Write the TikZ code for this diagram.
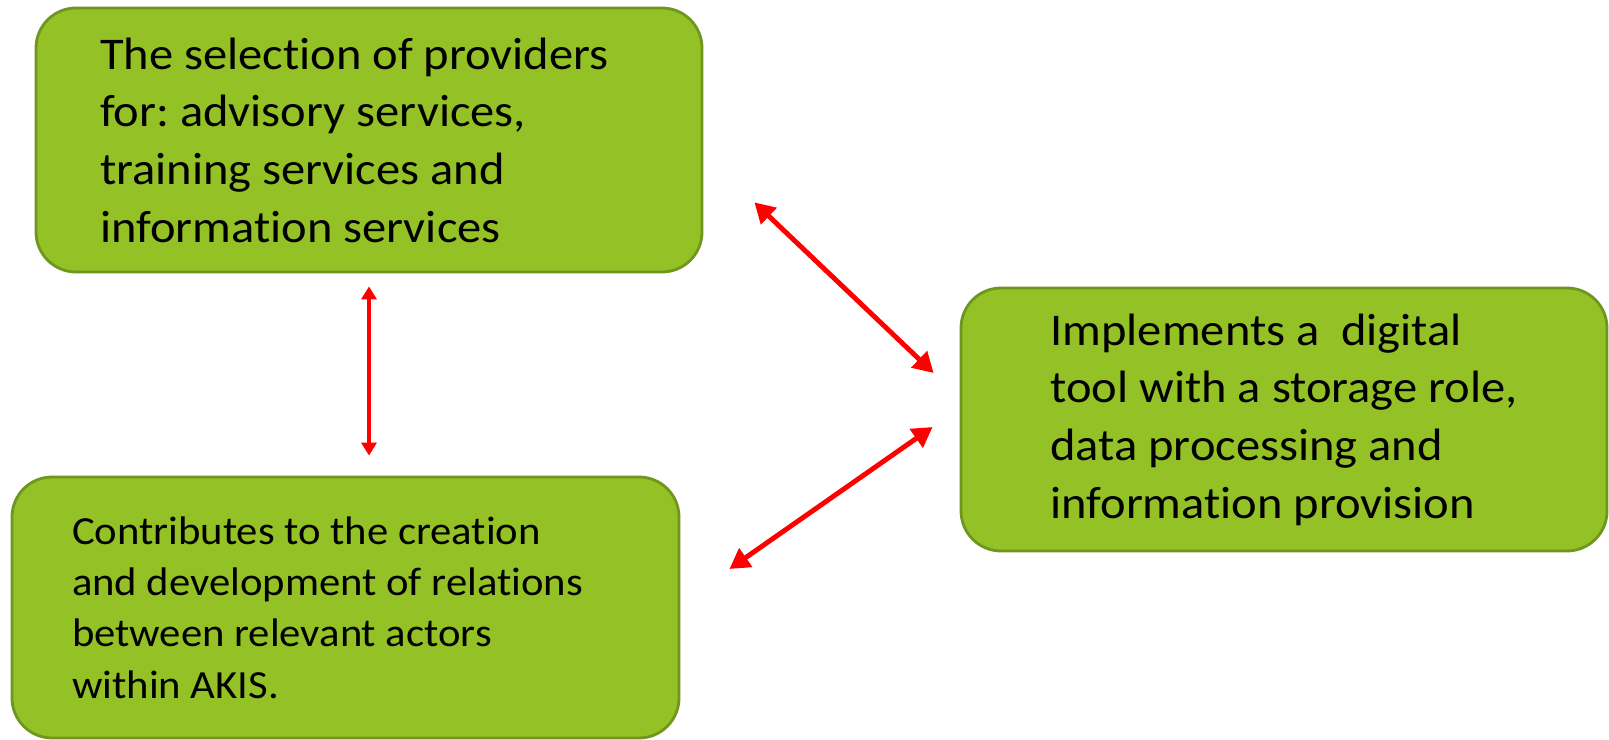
\documentclass[tikz,border=0pt]{standalone}
\usepackage{fontspec}
\setmainfont{Carlito}[Ligatures=NoCommon, FakeStretch=1.07]
\usetikzlibrary{arrows.meta,positioning}
\definecolor{boxgreen}{RGB}{147,193,38}
\definecolor{boxedge}{RGB}{112,150,32}
\frenchspacing

\begin{document}
\begin{tikzpicture}[
		greenbox/.style={draw=boxedge, line width=0.8pt, fill=boxgreen, rounded corners=0.4cm, align=flush left, inner ysep=0pt},
		bigfont/.style={font=\fontsize{12.9}{16.4}\selectfont},
		smallfont/.style={font=\fontsize{11.35}{14.6}\selectfont},
		thickarrow/.style={red, line width=1.4pt, {Triangle[length=0.2cm,width=0.22cm]}-{Triangle[length=0.2cm,width=0.22cm]}},
		thinarrow/.style={red, line width=1.1pt, {Triangle[length=0.13cm,width=0.15cm]}-{Triangle[length=0.13cm,width=0.15cm]}}
	]
		\useasboundingbox (0,0) rectangle (16.09,7.39);
		\node[greenbox, bigfont, minimum height=2.64cm, text width=5.38cm, inner xsep=0.64cm] (selection) at (3.69,5.99)
			{The selection of providers\\for: advisory services,\\training services and\\information services};
		\node[greenbox, smallfont, minimum height=2.61cm, text width=5.47cm, inner xsep=0.6cm] (contrib) at (3.455,1.315)
			{Contributes to the creation\\and development of relations\\between relevant actors\\within AKIS.};
		\node[greenbox, bigfont, minimum height=2.63cm, minimum width=6.46cm] (tool) at (12.84,3.195)
			{Implements a\ \ digital\\tool with a storage role,\\data processing and\\information provision};
		\draw[thinarrow, shorten <=0.13cm, shorten >=0.2cm] (selection.south) -- (selection.south |- contrib.north);
		\draw[thickarrow] ([shift={(0.51,0.71)}]selection.south east) -- ([shift={(-0.26,0.465)}]tool.west);
		\draw[thickarrow] ([shift={(-0.27,-0.075)}]tool.west) -- ([shift={(0.49,0.385)}]contrib.east);
	\end{tikzpicture}
\end{document}
